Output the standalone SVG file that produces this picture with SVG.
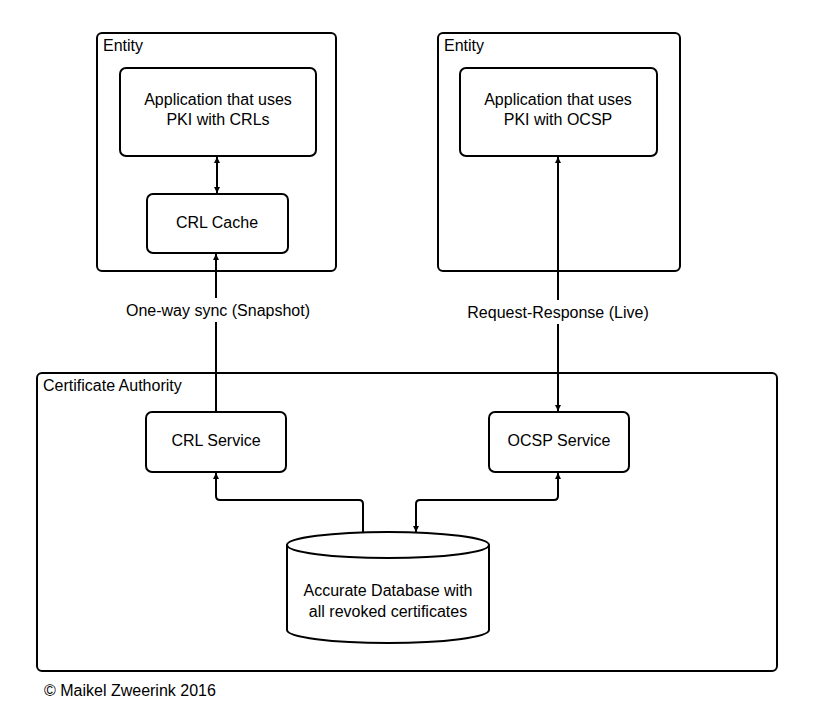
<svg xmlns="http://www.w3.org/2000/svg" width="814" height="704" viewBox="0 0 814 704">
<style>
.b{fill:#fff;stroke:#000;stroke-width:2}
.t{font-family:"Liberation Sans",Arial,sans-serif;font-size:16px;fill:#000}
.c{text-anchor:middle}
.l{fill:none;stroke:#000;stroke-width:2}
</style>
<defs>
<marker id="a" viewBox="0 0 10 10" refX="10" refY="5" markerWidth="6" markerHeight="8" orient="auto-start-reverse" markerUnits="userSpaceOnUse"><path d="M0,0L10,5L0,10z"/></marker>
</defs>
<rect width="814" height="704" fill="#fff"/>
<g id="entity1"><rect class="b" x="97" y="33" width="239" height="238" rx="5"/><text class="t" x="103" y="51">Entity</text></g>
<g id="entity2"><rect class="b" x="438" y="33" width="242" height="238" rx="5"/><text class="t" x="444" y="51">Entity</text></g>
<g id="ca"><rect class="b" x="37" y="373" width="740" height="298" rx="5"/><text class="t" x="43" y="391">Certificate Authority</text></g>
<g id="app1"><rect class="b" x="120" y="68" width="196" height="88" rx="6"/><text class="t c" x="218" y="105">Application that uses</text><text class="t c" x="218" y="125">PKI with CRLs</text></g>
<g id="app2"><rect class="b" x="460" y="68" width="197" height="88" rx="6"/><text class="t c" x="558" y="105">Application that uses</text><text class="t c" x="558" y="125">PKI with OCSP</text></g>
<g id="cache"><rect class="b" x="147" y="194" width="141" height="59" rx="6"/><text class="t c" x="217" y="228">CRL Cache</text></g>
<g id="crl"><rect class="b" x="146" y="412" width="140" height="60" rx="6"/><text class="t c" x="216" y="446">CRL Service</text></g>
<g id="ocsp"><rect class="b" x="489" y="412" width="140" height="60" rx="6"/><text class="t c" x="559" y="446">OCSP Service</text></g>
<g id="db"><path class="b" d="M287,545 A101,13 0 0 1 489,545 L489,630 A101,13 0 0 1 287,630 Z"/><path class="l" d="M287,545 A101,13 0 0 0 489,545"/><text class="t c" x="388" y="596">Accurate Database with</text><text class="t c" x="388" y="617">all revoked certificates</text></g>
<g id="connectors">
<line class="l" x1="217" y1="157" x2="217" y2="193" marker-start="url(#a)" marker-end="url(#a)"/>
<line class="l" x1="216" y1="412" x2="216" y2="254" marker-end="url(#a)"/>
<line class="l" x1="558" y1="157" x2="558" y2="411" marker-start="url(#a)" marker-end="url(#a)"/>
<path class="l" d="M363,532 V504 Q363,500 359,500 H220 Q216,500 216,496 V473" marker-end="url(#a)"/>
<path class="l" d="M558,473 V496 Q558,500 554,500 H420 Q416,500 416,504 V532" marker-start="url(#a)" marker-end="url(#a)"/>
<rect x="110" y="298" width="215" height="24" fill="#fff"/>
<text class="t c" x="218" y="316">One-way sync (Snapshot)</text>
<rect x="452" y="300" width="212" height="24" fill="#fff"/>
<text class="t c" x="558" y="318">Request-Response (Live)</text>
</g>
<text class="t" x="44" y="696">© Maikel Zweerink 2016</text>
</svg>
